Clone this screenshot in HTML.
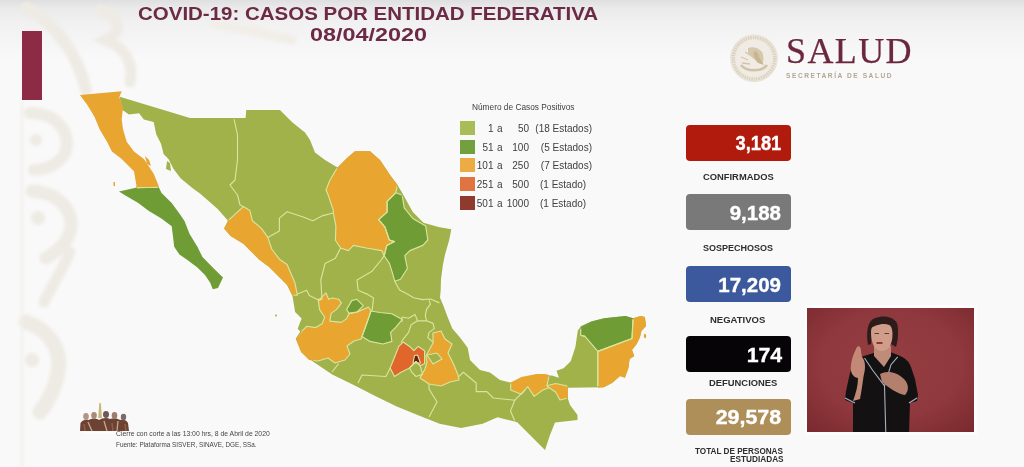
<!DOCTYPE html>
<html><head><meta charset="utf-8">
<style>
html,body{margin:0;padding:0;}
body{width:1024px;height:467px;overflow:hidden;position:relative;background:#f9f9f9;font-family:"Liberation Sans",sans-serif;}
.abs{position:absolute;}
#topfade{left:0;top:0;width:1024px;height:60px;background:linear-gradient(#dfdfdf 0px,#e9e9e9 7px,#f1f1f1 22px,#f9f9f9 60px);}
.title{color:#6c2a44;font-weight:bold;white-space:nowrap;transform-origin:0 0;}
.box{position:absolute;left:685.5px;width:105px;height:36px;border-radius:4px;}
.num{position:absolute;color:#fff;font-weight:bold;-webkit-text-stroke:0.35px #fff;white-space:nowrap;transform-origin:100% 0;}
.lab{position:absolute;color:#2e2e2e;font-weight:bold;white-space:nowrap;font-size:9px;transform-origin:0 0;}
.lg{position:absolute;color:#404040;font-size:10px;white-space:nowrap;}
.lr{transform-origin:100% 0;}
.sw{position:absolute;left:460px;width:15px;height:14px;}
.ft{position:absolute;color:#444;font-size:8px;white-space:nowrap;transform-origin:0 0;}
</style></head>
<body>
<div id="wrap" style="position:absolute;left:0;top:0;width:1024px;height:467px;filter:blur(0.45px)">
<div class="abs" id="topfade"></div>
<!-- decorative background -->
<svg class="abs" style="left:0;top:0;filter:blur(1.5px)" width="1024" height="467">
  <g fill="none" stroke="#eeebe4" stroke-linecap="round">
    <path d="M26 8 C55 22 78 55 86 90" stroke-width="12"/>
    <path d="M100 10 C122 18 122 32 106 40 C126 48 134 64 130 82" stroke-width="11"/>
    <path d="M215 24 C245 30 270 34 292 40" stroke-width="9" stroke="#f1eee8"/>
    <path d="M30 113 C58 113 70 133 66 150 C62 163 48 169 34 170" stroke-width="12"/>
    <path d="M32 191 C62 193 75 214 70 232 C66 245 56 252 46 258" stroke-width="13"/>
    <path d="M70 252 C62 270 52 286 44 302" stroke-width="11"/>
    <path d="M26 322 C50 330 62 350 58 372 C55 390 48 402 40 412" stroke-width="15"/>
  </g>
  <g fill="#eeebe4">
    <circle cx="36" cy="140" r="6"/>
    <circle cx="38" cy="218" r="7"/>
    <circle cx="32" cy="360" r="7"/>
  </g>
  <path d="M22 100 L22 467" stroke="#f1eee9" stroke-width="2"/>
</svg>
<div class="abs" style="left:22px;top:31px;width:20px;height:69px;background:#8d2a45"></div>

<div class="abs title" id="t1" style="left:138px;top:3px;font-size:18.5px;transform:scaleX(1.107)">COVID-19: CASOS POR ENTIDAD FEDERATIVA</div>
<div class="abs title" id="t2" style="left:310px;top:25px;font-size:17.5px;transform:scaleX(1.336)">08/04/2020</div>

<!-- MAP -->
<svg class="abs" style="left:0;top:0" width="1024" height="467" viewBox="0 0 1024 467">
<defs>
<polygon id="oMain" points="119.7,96.8 190,118 245.6,118 246.25,110 280,110 292.5,122.5 305,132.5 310,140 315,152.5 325,160 337.5,167.5 347.5,157.5 355,151.25 370,151.25 380,160 390,175 397.5,185 402.1,192.8 412.8,212.1 423.5,222.8 438.5,227.1 451.3,229.2 449.2,240 444.9,255 442.8,265.6 441,279.3 440.7,290 440,297.7 443.3,305.4 447.1,315.7 452.3,328.6 460,337.6 467.7,347.8 470,360 480,370 490,372.5 500,380 510,382.5 520,380 530,377.5 540,374 547,375.4 551.8,375.4 558.9,377.8 556.5,370.7 563.6,368.3 570.7,361.3 575.4,347 577.8,330.6 581.3,326 591.4,321.4 604.2,318.2 625.6,316 633.1,318.2 640.6,316 644.9,317.1 646,326 641.4,331 640,337 636.7,344 632,350 634.3,356 629.6,359 628.4,368 627,372 624.9,377.8 620,376 617.8,378 612,383 603.7,387.2 567.8,387.8 567.5,397.5 570,405 577.5,415 577.5,420 555,422.5 550,435 545,450 530,435 517.5,422.5 514.8,421.6 497.6,417.3 482.6,423.8 461.1,428.1 439.6,423.8 418.2,415.2 396.7,406.6 375.2,395.9 353.7,385.1 332.2,374.4 312.9,361.5 301.3,352 295.7,338.8 300.3,331.4 297.7,328.8 301.6,318.6 295.1,312 292.6,296.7 292.2,295.2 287.1,284.9 279.4,277.2 269.1,266.9 258.8,259.2 251.1,251.5 243.4,243.8 230.6,236.1 224.1,228.4 228,220.7 217.7,209 200,193.4 193,188.4 180.8,178.6 173.4,168.7 168.5,158.9 163.6,154 161.1,144.1 156.2,134.3 153.7,122 143.9,119.5 139,113.3 129,114.6 121.7,109.6"/>
<polygon id="oPen" points="79.9,94.9 121.7,91.2 119.3,97.3 123,107.2 121.7,119.5 123,129.3 126.7,141.7 134,151.5 143.9,158.9 148.8,166.3 153.7,173.7 158.7,186 158.8,187.2 161.4,192.8 171.7,203.1 179.4,213.4 184.5,221.1 189.6,234 197.4,246.8 202.5,257.1 207.6,262.2 215.3,270 223,277.6 218,288 212.8,289.2 210.2,282.8 205,275 197.4,267.4 187.1,259.7 179.4,254.5 174.2,246.8 173,236.5 171.7,226.2 161.4,218.5 148.5,210.8 138.3,203.1 125.4,195.4 119,191.6 135.7,187.7 136.5,186 134,171.2 121.7,158.9 111.9,151.5 107,141.7 99.6,129.3 94.6,117 87.2,104.7"/>
<mask id="inner" maskUnits="userSpaceOnUse" x="0" y="0" width="1024" height="467">
<rect width="1024" height="467" fill="black"/>
<use href="#oMain" fill="white" stroke="black" stroke-width="2.4"/>
<use href="#oPen" fill="white" stroke="black" stroke-width="2.4"/>
</mask>
</defs>
<g id="mapfill">
<polygon fill="#a1b24a" points="119.7,96.8 190,118 245.6,118 246.25,110 280,110 292.5,122.5 305,132.5 310,140 315,152.5 325,160 337.5,167.5 347.5,157.5 355,151.25 370,151.25 380,160 390,175 397.5,185 402.1,192.8 412.8,212.1 423.5,222.8 438.5,227.1 451.3,229.2 449.2,240 444.9,255 442.8,265.6 441,279.3 440.7,290 440,297.7 443.3,305.4 447.1,315.7 452.3,328.6 460,337.6 467.7,347.8 470,360 480,370 490,372.5 500,380 510,382.5 520,380 530,377.5 540,374 547,375.4 551.8,375.4 558.9,377.8 556.5,370.7 563.6,368.3 570.7,361.3 575.4,347 577.8,330.6 581.3,326 591.4,321.4 604.2,318.2 625.6,316 633.1,318.2 640.6,316 644.9,317.1 646,326 641.4,331 640,337 636.7,344 632,350 634.3,356 629.6,359 628.4,368 627,372 624.9,377.8 620,376 617.8,378 612,383 603.7,387.2 567.8,387.8 567.5,397.5 570,405 577.5,415 577.5,420 555,422.5 550,435 545,450 530,435 517.5,422.5 514.8,421.6 497.6,417.3 482.6,423.8 461.1,428.1 439.6,423.8 418.2,415.2 396.7,406.6 375.2,395.9 353.7,385.1 332.2,374.4 312.9,361.5 301.3,352 295.7,338.8 300.3,331.4 297.7,328.8 301.6,318.6 295.1,312 292.6,296.7 292.2,295.2 287.1,284.9 279.4,277.2 269.1,266.9 258.8,259.2 251.1,251.5 243.4,243.8 230.6,236.1 224.1,228.4 228,220.7 217.7,209 200,193.4 193,188.4 180.8,178.6 173.4,168.7 168.5,158.9 163.6,154 161.1,144.1 156.2,134.3 153.7,122 143.9,119.5 139,113.3 129,114.6 121.7,109.6"/>
<polygon fill="#e8a530" points="79.9,94.9 121.7,91.2 119.3,97.3 123,107.2 121.7,119.5 123,129.3 126.7,141.7 134,151.5 143.9,158.9 148.8,166.3 153.7,173.7 158.7,186 158.8,187.2 135.7,187.7 136.5,186 134,171.2 121.7,158.9 111.9,151.5 107,141.7 99.6,129.3 94.6,117 87.2,104.7"/>
<polygon fill="#e8a530" points="145,156 149,160 151,166 147,164"/>
<polygon fill="#e8a530" points="113.5,182 115,182 115,186 113.5,186"/>
<polygon fill="#6f9c35" points="119,191.6 135.7,187.7 158.8,187.2 161.4,192.8 171.7,203.1 179.4,213.4 184.5,221.1 189.6,234 197.4,246.8 202.5,257.1 207.6,262.2 215.3,270 223,277.6 218,288 212.8,289.2 210.2,282.8 205,275 197.4,267.4 187.1,259.7 179.4,254.5 174.2,246.8 173,236.5 171.7,226.2 161.4,218.5 148.5,210.8 138.3,203.1 125.4,195.4"/>
<polygon fill="#a1b24a" points="167,161 170,163 171,171 166,169"/>
<polygon fill="#e8a530" points="243.4,206.6 249.8,210.4 252.4,220.7 261.4,228.4 267.8,237.4 271.7,249 279.4,259.2 287.1,264.4 294.8,282.4 297.4,295.2 292.2,295.2 287.1,284.9 279.4,277.2 269.1,266.9 258.8,259.2 251.1,251.5 243.4,243.8 230.6,236.1 224.1,228.4 228,220.7"/>
<polygon fill="#e8a530" points="337.5,167.5 347.5,157.5 355,151.25 370,151.25 380,160 390,175 397.5,185 395.7,192.8 387.1,201.4 387.1,212.1 378.6,219.6 385,227.1 389.3,240 394.5,241.6 386.8,245.4 384.2,255.7 381.7,250.6 366.2,248 353.4,245.4 348.3,250.6 340.6,248 335.4,240.3 335.9,225.8 333.3,213 333.3,210.4 328.2,195 326,190 330,180"/>
<polygon fill="#6f9c35" points="395.7,192.8 402.1,195 404.2,207.8 412.8,218.5 425.7,226 427.8,240 422.8,245.4 409.9,250.6 404.8,255.7 407.4,268.5 400.5,279.3 394.7,281.2 391.9,271.1 389.4,263.4 384.2,255.7 386.8,245.4 394.5,241.6 389.3,240 385,227.1 378.6,219.6 387.1,212.1 387.1,201.4"/>
<polygon fill="#6f9c35" points="346.6,309.6 351.7,300.6 356.8,299.3 363.3,305.7 356.8,312.1 349.1,313.4"/>
<polygon fill="#e8a530" points="318.3,300.6 326,292.9 328.6,299.3 332.4,298 338.8,299.3 341.4,303.1 336.3,309.6 331.1,313.4 329.8,321.1 341.4,322.4 346.6,318.6 349.1,313.4 356.8,312.1 365.8,308.3 368.4,307 371,310.8 367.1,322.4 362,336.6 361,339 354,341 347,346 350,354 345,360 335,363 328,358 318,361 309,360 301,352 296,339 301.6,331.4 306.7,326.3 315.7,327.6 322.1,323.7 324.7,317.3 319.6,309.6"/>
<polygon fill="#6f9c35" points="371,311 380,312.5 391.9,313.8 402.1,319.6 395.7,327.3 390.6,332.4 391.9,341.4 382.9,344 370,341.4 362,336.6 367.1,322.4"/>
<polygon fill="#e8a530" points="433,333 441,331 445,339 452,344 448,353 454,365 458,375 459,380 450,382 441,386 429,384 420,378 425,369 427,362 426,356 433,343"/>
<polygon fill="#a1b24a" points="427,355 437,353 442,359 433,364"/>
<polygon fill="#e0662c" points="390.2,367.9 394.5,357.2 398.8,346.4 403.1,342.1 409.6,346.4 413.9,350.7 418.2,346.4 424.6,350.7 424.6,363.6 420.3,365.8 416,361.5 409.6,367.9 401,372.2 394.5,376.5"/>
<polygon fill="#a1b24a" points="409.6,367.9 416,361.5 420.3,365.8 422.5,374.4 416,376.5 411.7,372.2"/>
<polygon fill="#6b1c16" points="414.5,355.5 417.5,355 420.5,363 413,363"/>
<polygon fill="#e8a530" points="510.7,382.4 521.4,377 536.4,373.9 545,373.9 549.2,375 547,385.7 549.2,387.8 542.8,390 534.2,396.4 527.8,386.7 521.4,394.2 510.7,390"/>
<polygon fill="#e8a530" points="549.2,387.8 547,385.7 555.6,383.5 566.3,385.7 567.8,387.8 568,398 560,400 555.6,392"/>
<polygon fill="#6f9c35" points="580.7,326.8 591.4,321.4 604.2,318.2 625.6,316 633.1,318.2 632,338.5 597.8,351.4 585,336.4 580.7,335.3"/>
<ellipse fill="#e8a530" cx="645" cy="336" rx="1.2" ry="2.2"/>
<circle fill="#a1b24a" cx="276" cy="315.5" r="1"/>
<polygon fill="#e8a530" points="633.1,318.2 640.6,316 644.9,317.1 646,326 641.4,331 640,337 636.7,344 632,350 634.3,356 629.6,359 628.4,368 627,372 624.9,377.8 620,376 617.8,378 612,383 603.7,387.2 597.8,387.8 597.8,351.4 632,338.5"/>
</g>
<g fill="none" stroke="#d8e59c" stroke-width="1.15" stroke-linejoin="round" mask="url(#inner)">
<polygon points="79.9,94.9 121.7,91.2 119.3,97.3 123,107.2 121.7,119.5 123,129.3 126.7,141.7 134,151.5 143.9,158.9 148.8,166.3 153.7,173.7 158.7,186 158.8,187.2 135.7,187.7 136.5,186 134,171.2 121.7,158.9 111.9,151.5 107,141.7 99.6,129.3 94.6,117 87.2,104.7"/>
<polygon points="119,191.6 135.7,187.7 158.8,187.2 161.4,192.8 171.7,203.1 179.4,213.4 184.5,221.1 189.6,234 197.4,246.8 202.5,257.1 207.6,262.2 215.3,270 223,277.6 218,288 212.8,289.2 210.2,282.8 205,275 197.4,267.4 187.1,259.7 179.4,254.5 174.2,246.8 173,236.5 171.7,226.2 161.4,218.5 148.5,210.8 138.3,203.1 125.4,195.4"/>
<polygon points="243.4,206.6 249.8,210.4 252.4,220.7 261.4,228.4 267.8,237.4 271.7,249 279.4,259.2 287.1,264.4 294.8,282.4 297.4,295.2 292.2,295.2 287.1,284.9 279.4,277.2 269.1,266.9 258.8,259.2 251.1,251.5 243.4,243.8 230.6,236.1 224.1,228.4 228,220.7"/>
<polygon points="337.5,167.5 347.5,157.5 355,151.25 370,151.25 380,160 390,175 397.5,185 395.7,192.8 387.1,201.4 387.1,212.1 378.6,219.6 385,227.1 389.3,240 394.5,241.6 386.8,245.4 384.2,255.7 381.7,250.6 366.2,248 353.4,245.4 348.3,250.6 340.6,248 335.4,240.3 335.9,225.8 333.3,213 333.3,210.4 328.2,195 326,190 330,180"/>
<polygon points="395.7,192.8 402.1,195 404.2,207.8 412.8,218.5 425.7,226 427.8,240 422.8,245.4 409.9,250.6 404.8,255.7 407.4,268.5 400.5,279.3 394.7,281.2 391.9,271.1 389.4,263.4 384.2,255.7 386.8,245.4 394.5,241.6 389.3,240 385,227.1 378.6,219.6 387.1,212.1 387.1,201.4"/>
<polygon points="346.6,309.6 351.7,300.6 356.8,299.3 363.3,305.7 356.8,312.1 349.1,313.4"/>
<polygon points="318.3,300.6 326,292.9 328.6,299.3 332.4,298 338.8,299.3 341.4,303.1 336.3,309.6 331.1,313.4 329.8,321.1 341.4,322.4 346.6,318.6 349.1,313.4 356.8,312.1 365.8,308.3 368.4,307 371,310.8 367.1,322.4 362,336.6 361,339 354,341 347,346 350,354 345,360 335,363 328,358 318,361 309,360 301,352 296,339 301.6,331.4 306.7,326.3 315.7,327.6 322.1,323.7 324.7,317.3 319.6,309.6"/>
<polygon points="371,311 380,312.5 391.9,313.8 402.1,319.6 395.7,327.3 390.6,332.4 391.9,341.4 382.9,344 370,341.4 362,336.6 367.1,322.4"/>
<polygon points="433,333 441,331 445,339 452,344 448,353 454,365 458,375 459,380 450,382 441,386 429,384 420,378 425,369 427,362 426,356 433,343"/>
<polygon points="427,355 437,353 442,359 433,364"/>
<polygon points="390.2,367.9 394.5,357.2 398.8,346.4 403.1,342.1 409.6,346.4 413.9,350.7 418.2,346.4 424.6,350.7 424.6,363.6 420.3,365.8 416,361.5 409.6,367.9 401,372.2 394.5,376.5"/>
<polygon points="409.6,367.9 416,361.5 420.3,365.8 422.5,374.4 416,376.5 411.7,372.2"/>
<polygon points="414.5,355.5 417.5,355 420.5,363 413,363"/>
<polygon points="510.7,382.4 521.4,377 536.4,373.9 545,373.9 549.2,375 547,385.7 549.2,387.8 542.8,390 534.2,396.4 527.8,386.7 521.4,394.2 510.7,390"/>
<polygon points="549.2,387.8 547,385.7 555.6,383.5 566.3,385.7 567.8,387.8 568,398 560,400 555.6,392"/>
<polygon points="580.7,326.8 591.4,321.4 604.2,318.2 625.6,316 633.1,318.2 632,338.5 597.8,351.4 585,336.4 580.7,335.3"/>
<polygon points="633.1,318.2 640.6,316 644.9,317.1 646,326 641.4,331 640,337 636.7,344 632,350 634.3,356 629.6,359 628.4,368 627,372 624.9,377.8 620,376 617.8,378 612,383 603.7,387.2 597.8,387.8 597.8,351.4 632,338.5"/>
<polyline points="233.8,118 237.5,135 237.5,160 235,180 230,185 237.5,195 240,205 243.4,206.6"/>
<polyline points="267.8,237.4 279.4,231 279.4,218.1 287.1,211.7 302.5,216.8 312.8,220.7 323,215.6 333.3,213"/>
<polyline points="340.6,248 335.4,258.3 325.1,263.4 320.8,280 322,299.3"/>
<polyline points="297.4,294 306.7,290.3 309.3,295.4 317,299.3 322,299.3 318.3,300.6"/>
<polyline points="384.2,255.7 381.2,260 371.6,271.6 357,280 358.1,290.3 367.1,294.1 373.5,298 372.3,309.6 371,311"/>
<polyline points="394.7,281.2 399.6,290 407.3,293.9 413.7,297.7 422.7,299.6 430.4,299 439.4,302.9"/>
<polyline points="429.1,300.3 430.4,304.1 426.6,309.3 425.3,315.7 426.6,320.8 417.6,320.8 415,314.4 408.6,318.3 402.1,317 402,322"/>
<polyline points="417.6,320.8 411.1,324.7 408.6,332.4 403.4,338.8 401,342.5"/>
<polyline points="426.6,320.8 433,323.4 434.3,328.6 429.1,332.4 427.8,337.6 433,342"/>

<polyline points="332,372 338.7,363.6"/>
<polyline points="358,383 362,375 385.9,376.5 390.2,368"/>
<polyline points="429,384 429,389 437,402 429,417"/>
<polyline points="459,376.5 463.3,372.2 476.2,383 476.2,391.6 486.9,391.6 493.3,398 514.8,400.2 510.5,410.9 514.8,421"/>
<polyline points="514.8,400.2 525,390"/>
<polyline points="597.8,387.8 597.8,351.4"/>
<polyline points="585,336.4 580.7,335.3"/>
</g>
</svg>

<!-- legend -->
<div class="lg" id="lgT" style="left:472px;top:101.5px;font-size:8.8px;transform:scaleX(0.944);transform-origin:0 0">Número de Casos Positivos</div>
<div class="sw" style="top:120.5px;height:14px;background:#a8bd57"></div>
<div class="lg lr" style="right:530.5px;top:122.5px">1</div>
<div class="lg" style="left:497px;top:122.5px">a</div>
<div class="lg lr" style="right:495px;top:122.5px">50</div>
<div class="lg lr" id="lgC0" style="right:432px;top:122.5px">(18 Estados)</div>
<div class="sw" style="top:139.5px;height:14px;background:#73a03e"></div>
<div class="lg lr" style="right:530.5px;top:141.5px">51</div>
<div class="lg" style="left:497px;top:141.5px">a</div>
<div class="lg lr" style="right:495px;top:141.5px">100</div>
<div class="lg lr" id="lgC1" style="right:432px;top:141.5px">(5 Estados)</div>
<div class="sw" style="top:158.0px;height:14px;background:#ecab43"></div>
<div class="lg lr" style="right:530.5px;top:160.0px">101</div>
<div class="lg" style="left:497px;top:160.0px">a</div>
<div class="lg lr" style="right:495px;top:160.0px">250</div>
<div class="lg lr" id="lgC2" style="right:432px;top:160.0px">(7 Estados)</div>
<div class="sw" style="top:177.0px;height:14px;background:#e07440"></div>
<div class="lg lr" style="right:530.5px;top:179.0px">251</div>
<div class="lg" style="left:497px;top:179.0px">a</div>
<div class="lg lr" style="right:495px;top:179.0px">500</div>
<div class="lg" id="lgC3" style="left:540px;top:179.0px">(1 Estado)</div>
<div class="sw" style="top:195.5px;height:14px;background:#8e3b2d"></div>
<div class="lg lr" style="right:530.5px;top:197.5px">501</div>
<div class="lg" style="left:497px;top:197.5px">a</div>
<div class="lg lr" style="right:495px;top:197.5px">1000</div>
<div class="lg" id="lgC4" style="left:540px;top:197.5px">(1 Estado)</div>

<!-- logo -->
<svg class="abs" style="left:728px;top:33px;filter:blur(0.4px)" width="52" height="52" viewBox="0 0 52 52">
  <circle cx="26" cy="25.3" r="23.6" fill="#efebe3"/>
  <circle cx="26" cy="25.3" r="20.8" fill="none" stroke="#dcd2c0" stroke-width="3.6" stroke-dasharray="1.6 0.8"/>
  <circle cx="26" cy="25.3" r="23.4" fill="none" stroke="#e6dfd3" stroke-width="0.8"/>
  <circle cx="26" cy="25.3" r="17" fill="#f0ece5"/>
  <path d="M20 15 C25 13 31 15 34 19 C36 23 36 28 34 31 L30 29 C27 26 22 24 20 20Z" fill="#d6c8ad"/>
  <path d="M26 18 C29 18 31 21 31 24 L36 32 L30 30 C27 27 25 23 26 18Z" fill="#c8b692"/>
  <path d="M13 24 L20 27 M14 30 L22 31 M17 19 L22 22" stroke="#d3c5aa" stroke-width="1.3"/>
  <path d="M13 32 C18 39 34 39 39 32" fill="none" stroke="#d2c4a8" stroke-width="2.6"/>
  <path d="M18 36.5 L34 36.5" stroke="#cdbd9f" stroke-width="1.2" stroke-dasharray="1.6 0.9"/>
</svg>
<div class="abs" style="left:786px;top:30px;font-family:'Liberation Serif',serif;font-size:36px;color:#6c2740;letter-spacing:1.4px;-webkit-text-stroke:0.25px #6c2740;white-space:nowrap">SALUD</div>
<div class="abs" style="left:786px;top:71.5px;font-size:6.6px;font-weight:bold;color:#b2a792;letter-spacing:1.55px;white-space:nowrap">SECRETARÍA DE SALUD</div>

<!-- stat boxes -->
<div class="box" style="top:125px;background:#b11b0e"></div>
<div class="box" style="top:194px;background:#797979"></div>
<div class="box" style="top:266px;background:#3b599c"></div>
<div class="box" style="top:335.5px;background:#060406"></div>
<div class="box" style="top:399px;background:#ae8f5a"></div>
<div class="num" style="right:243px;top:131px;font-size:20.5px;transform:scaleX(0.894)">3,181</div>
<div class="num" style="right:243px;top:201px;font-size:20.5px">9,188</div>
<div class="num" style="right:243px;top:273px;font-size:20.5px">17,209</div>
<div class="num" style="right:242px;top:343px;font-size:20.5px;transform:scaleX(1.04)">174</div>
<div class="num" style="right:243px;top:406px;font-size:20px;transform:scaleX(1.07)">29,578</div>
<div class="lab" style="left:703px;top:172px;transform:scaleX(1.04)">CONFIRMADOS</div>
<div class="lab" style="left:703px;top:243px">SOSPECHOSOS</div>
<div class="lab" style="left:710px;top:315px;transform:scaleX(1.057)">NEGATIVOS</div>
<div class="lab" style="left:709px;top:378px;transform:scaleX(1.044)">DEFUNCIONES</div>
<div class="lab" style="left:695px;top:446px;font-size:8.5px;transform:scaleX(0.96)">TOTAL DE PERSONAS</div>
<div class="lab" style="left:730px;top:454px;font-size:8.5px;transform:scaleX(0.97)">ESTUDIADAS</div>

<!-- interpreter -->
<div class="abs" style="left:804.5px;top:305px;width:172px;height:129.5px;background:#fdfdfd;filter:blur(0.6px)"></div>
<div class="abs" style="left:807.3px;top:307.5px;width:166.5px;height:124.5px;background:#8e383d;overflow:hidden">
<svg width="167" height="125" viewBox="807 307 167 125" style="display:block">
  <defs>
    <radialGradient id="vbg" cx="0.5" cy="0.45" r="0.72"><stop offset="0" stop-color="#953e42"/><stop offset="0.6" stop-color="#8f383d"/><stop offset="1" stop-color="#7a2a2f"/></radialGradient>
  </defs>
  <rect x="807" y="307" width="167" height="125" fill="url(#vbg)"/>
  <!-- body -->
  <path d="M864 355 L877 351 L890 351 L898 354 C905 357 909 360 911 366 L915 378 L918 394 L917 400 L910 402 L909 432 L853 432 L853 402 L845 399 L846 390 L850 372 C853 362 857 357 864 355Z" fill="#141112"/>
  <!-- neck -->
  <path d="M874 345 L891 345 L891 355 L884 366 L874 355 Z" fill="#c08c7a"/>
  <!-- hair -->
  <path d="M868 344 C866 332 867 320 875 317 C883 314 893 315 897 322 C899 330 898 340 896 346 L891 343 L892 330 C888 324 878 323 872 330 L871 343Z" fill="#2e1c1b"/>
  <!-- face -->
  <path d="M871 331 C871 323 877 321.5 882 321.5 C889 321.5 892.5 325 892.5 333 C892.5 344 888 350 882 350 C875 350 871 343 871 331Z" fill="#cf9d89"/>
  <path d="M870 328 C873 319 879 317 884 317 C891 318 895 322 895 328 C890 323 885 322.5 880 323.5 C875 324.5 872 326 870 328Z" fill="#2e1c1b"/>
  <path d="M874.5 332.5 L879 332.5 M884.5 332.5 L889 332.5" stroke="#5a3a34" stroke-width="1"/>
  <path d="M876.5 342 L882.5 342" stroke="#8a2a2a" stroke-width="1.8"/>
  <!-- collar piping -->
  <path d="M864.5 357 L872.5 369 L884.5 385 L885.8 432 M897.7 355.8 L891 363.7 L884.5 385" fill="none" stroke="#a7b2bf" stroke-width="1.1"/>
  <path d="M845 397 L855 402 M909 402 L917 397" fill="none" stroke="#a7b2bf" stroke-width="1.3"/>
  <!-- raised arm & hand -->
  <path d="M853 400 C856 392 858 384 858 377 C852 376 850 370 851 364 C852 356 855 350 857 346 C859 344 861 346 861 350 L862 356 C865 359 866 366 864 373 C863 378 862 388 860 398Z" fill="#c28a76"/>
  <!-- chest hand -->
  <path d="M880 373 C887 369 897 371 904 378 C909 383 909 390 905 394 C898 393 889 387 882 381Z" fill="#b3806e"/>
</svg></div>

<!-- footer -->
<svg class="abs" style="left:76px;top:400px" width="58" height="36" viewBox="76 400 58 36">
  <path d="M99.3 403 L100.8 403 L102 418 L98.2 418Z" fill="#c9b777"/>
  <g>
    <path d="M80 431 L80.5 423 C82 420 86 419 89 420 C92 418 96 418 99 420 C102 418 107 417 110 419 C113 418 117 418 120 420 C123 419 127 420 128 423 L129 431 Z" fill="#6e4232"/>
    <ellipse cx="86" cy="416.5" rx="2.8" ry="3.4" fill="#b39383"/>
    <ellipse cx="94" cy="415.5" rx="2.8" ry="3.4" fill="#a98a78"/>
    <ellipse cx="106" cy="414.5" rx="3" ry="3.4" fill="#6c5a5a"/>
    <ellipse cx="114.5" cy="415.5" rx="2.8" ry="3.4" fill="#9c7c6c"/>
    <ellipse cx="123.5" cy="417" rx="2.7" ry="3.2" fill="#7a6a6a"/>
    <path d="M88 422 L92 431 M104 421 L107 431 M118 421 L117 431" stroke="#c4a88a" stroke-width="1.3"/>
    <path d="M84 424 L85 431 M112 423 L113 431 M125 424 L126 431" stroke="#8d5f4c" stroke-width="1.5"/>
  </g>
  <path d="M82 432 C95 434 110 433 128 432" stroke="#fdfdfd" stroke-width="2"/>
</svg>
<div class="ft" id="ft1" style="left:116px;top:428.5px;font-size:7.6px;transform:scaleX(0.897)">Cierre con corte a las 13:00 hrs, 8 de Abril de 2020</div>
<div class="ft" id="ft2" style="left:116px;top:440px;font-size:7.6px;transform:scaleX(0.84)">Fuente: Plataforma SISVER, SINAVE, DGE, SSa.</div>
</div>
</body></html>
